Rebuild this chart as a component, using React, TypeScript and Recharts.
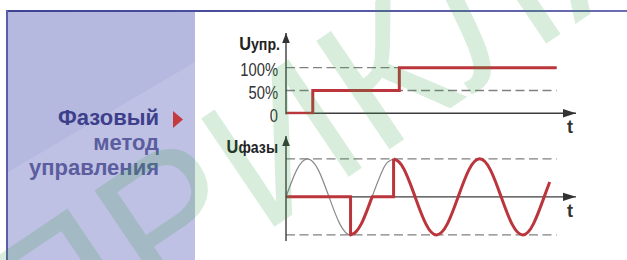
import React from 'react';
import { LineChart, Line, XAxis, YAxis, ReferenceLine, ReferenceDot } from 'recharts';

// ---- data (x in electrical degrees, y in % / relative amplitude) ----
const controlTicks = [0, 50, 100];
const controlTickLabels = ['0', '50%', '100%'];
const controlSignal = [
  { x: 0, y: 0 },
  { x: 112, y: 50 },
  { x: 474, y: 100 },
  { x: 1132, y: 100 },
];
const controlGuide100 = [{ x: 0, y: 100 }, { x: 1132, y: 100 }];
const controlGuide50 = [{ x: 0, y: 50 }, { x: 1132, y: 50 }];

const phaseGuideTop = [{ x: 0, y: 1 }, { x: 1132, y: 1 }];
const phaseGuideBottom = [{ x: 0, y: -1 }, { x: 1132, y: -1 }];
const phaseSupply = [
  { x: 0, y: 0 }, { x: 45, y: 0.71 }, { x: 90, y: 1 }, { x: 135, y: 0.71 },
  { x: 180, y: 0 }, { x: 225, y: -0.71 }, { x: 270, y: -1 }, { x: 315, y: -0.71 },
  { x: 360, y: 0 }, { x: 405, y: 0.71 }, { x: 427.5, y: 0.92 }, { x: 450, y: 1 },
];
const outputOff1 = [{ x: 0, y: 0 }, { x: 270, y: 0 }, { x: 270, y: -1 }];
const outputOn1 = [
  { x: 270, y: -1 }, { x: 292.5, y: -0.92 }, { x: 315, y: -0.71 },
  { x: 337.5, y: -0.38 }, { x: 360, y: 0 },
];
const outputOff2 = [{ x: 360, y: 0 }, { x: 450, y: 0 }, { x: 450, y: 1 }];
const outputOn2 = [
  { x: 450, y: 1 }, { x: 472.5, y: 0.92 }, { x: 495, y: 0.71 }, { x: 517.5, y: 0.38 },
  { x: 540, y: 0 }, { x: 585, y: -0.71 }, { x: 630, y: -1 }, { x: 675, y: -0.71 },
  { x: 720, y: 0 }, { x: 765, y: 0.71 }, { x: 810, y: 1 }, { x: 855, y: 0.71 },
  { x: 900, y: 0 }, { x: 945, y: -0.71 }, { x: 990, y: -1 }, { x: 1035, y: -0.71 },
  { x: 1080, y: 0 }, { x: 1103, y: 0.39 },
];

const RED = '#bb353c';
const AXIS = '#3d3d3d';
const DASH = '#808080';
const FONT = '"Liberation Sans", Arial, Helvetica, sans-serif';

const CondTick = (props: any) => {
  const { x, y, payload } = props;
  const idx = controlTicks.indexOf(payload.value);
  return (
    <text
      transform={`translate(${x},${y + 8.5}) scale(0.82,1)`}
      textAnchor="end"
      fontSize={18}
      fill="#333"
      fontFamily={FONT}
    >
      {controlTickLabels[idx]}
    </text>
  );
};

const UpArrow = (p: any) => (
  <polygon
    points={`${p.cx},${p.cy} ${p.cx - 3.8},${p.cy + 10} ${p.cx + 3.8},${p.cy + 10}`}
    fill="#333"
  />
);
const RightArrow = (p: any) => (
  <polygon
    points={`${p.cx},${p.cy} ${p.cx - 13},${p.cy - 4.2} ${p.cx - 13},${p.cy + 4.2}`}
    fill="#333"
  />
);

const X_DOMAIN: [number, number] = [0, 1213];

export default function App() {
  return (
    <div
      style={{
        position: 'absolute',
        left: 0,
        top: 0,
        width: 627,
        height: 260,
        background: '#fff',
        overflow: 'hidden',
      }}
    >
      {/* background frame & left panel */}
      <svg width={627} height={260} style={{ position: 'absolute', left: 0, top: 0 }}>
        <defs>
          <linearGradient id="topLine" x1="0" x2="1" y1="0" y2="0">
            <stop offset="0" stopColor="#3f4293" />
            <stop offset="0.35" stopColor="#4b4e9c" />
            <stop offset="1" stopColor="#6b6eb2" />
          </linearGradient>
        </defs>
        <rect x={8} y={12} width={187} height={248} fill="#b6b9df" />
        <polygon points="8,172 195,62 195,260 8,260" fill="#bec1e4" />
        <rect x={6} y={10} width={621} height={2} fill="url(#topLine)" />
        <rect x={6} y={10} width={2} height={250} fill="#5a5da8" />
        <text fontFamily={FONT} fontWeight="bold" fontSize={22} textAnchor="end">
          <tspan x={159} y={125} fill="#3d3f8b">Фазовый</tspan>
          <tspan x={159} y={150} fill="#5b5d9e">метод</tspan>
          <tspan x={159} y={175} fill="#5b5d9e">управления</tspan>
        </text>
        <polygon points="173,111 183,119.5 173,128" fill="#c33b3e" />
        {/* axis captions */}
        <text
          transform="translate(280,50) scale(0.86,1)"
          textAnchor="end"
          fontFamily={FONT}
          fontWeight="bold"
          fill="#222"
        >
          <tspan fontSize={19}>U</tspan>
          <tspan fontSize={16.5}>упр.</tspan>
        </text>
        <text
          transform="translate(278,153) scale(0.86,1)"
          textAnchor="end"
          fontFamily={FONT}
          fontWeight="bold"
          fill="#222"
        >
          <tspan fontSize={19}>U</tspan>
          <tspan fontSize={16.5}>фазы</tspan>
        </text>
        <text x={570} y={133} textAnchor="middle" fontFamily={FONT} fontWeight="bold" fontSize={18} fill="#333">t</text>
        <text x={570} y={217} textAnchor="middle" fontFamily={FONT} fontWeight="bold" fontSize={18} fill="#333">t</text>
      </svg>

      {/* control signal chart */}
      <div style={{ position: 'absolute', left: 0, top: 0 }}>
        <LineChart width={627} height={130} margin={{ top: 33, right: 51, bottom: 15.8, left: 226 }}>
          <XAxis type="number" dataKey="x" domain={X_DOMAIN} hide allowDataOverflow />
          <YAxis
            type="number"
            dataKey="y"
            domain={[-2, 176]}
            ticks={controlTicks}
            interval={0}
            width={60}
            tickLine={false}
            axisLine={{ stroke: AXIS, strokeWidth: 1.4 }}
            tick={<CondTick />}
            allowDataOverflow
          />
          <ReferenceLine y={0} stroke={AXIS} strokeWidth={1.4} />
          <Line data={controlGuide100} dataKey="y" stroke={DASH} strokeWidth={1.3} strokeDasharray="9 4.5" dot={false} activeDot={false} isAnimationActive={false} />
          <Line data={controlGuide50} dataKey="y" stroke={DASH} strokeWidth={1.3} strokeDasharray="9 4.5" dot={false} activeDot={false} isAnimationActive={false} />
          <Line data={controlSignal} dataKey="y" type="stepAfter" stroke={RED} strokeWidth={3} dot={false} activeDot={false} isAnimationActive={false} />
          <ReferenceDot x={0} y={176} shape={UpArrow} ifOverflow="visible" />
          <ReferenceDot x={1213} y={0} shape={RightArrow} ifOverflow="visible" />
        </LineChart>
      </div>

      {/* phase voltage chart */}
      <div style={{ position: 'absolute', left: 0, top: 130 }}>
        <LineChart width={627} height={130} margin={{ top: 6, right: 51, bottom: 19, left: 226 }}>
          <XAxis type="number" dataKey="x" domain={X_DOMAIN} hide allowDataOverflow />
          <YAxis
            type="number"
            dataKey="y"
            domain={[-1.16, 1.6]}
            width={60}
            tick={false}
            tickLine={false}
            axisLine={{ stroke: AXIS, strokeWidth: 1.4 }}
            allowDataOverflow
          />
          <ReferenceLine y={0} stroke={AXIS} strokeWidth={1.4} />
          <Line data={phaseGuideTop} dataKey="y" stroke={DASH} strokeWidth={1.3} strokeDasharray="9 4.5" dot={false} activeDot={false} isAnimationActive={false} />
          <Line data={phaseGuideBottom} dataKey="y" stroke={DASH} strokeWidth={1.3} strokeDasharray="9 4.5" dot={false} activeDot={false} isAnimationActive={false} />
          <Line data={phaseSupply} dataKey="y" type="natural" stroke="#8a8a8a" strokeWidth={1.2} dot={false} activeDot={false} isAnimationActive={false} />
          <Line data={outputOff1} dataKey="y" stroke={RED} strokeWidth={3} dot={false} activeDot={false} isAnimationActive={false} />
          <Line data={outputOn1} dataKey="y" type="monotone" stroke={RED} strokeWidth={3} strokeLinecap="round" dot={false} activeDot={false} isAnimationActive={false} />
          <Line data={outputOff2} dataKey="y" stroke={RED} strokeWidth={3} dot={false} activeDot={false} isAnimationActive={false} />
          <Line data={outputOn2} dataKey="y" type="natural" stroke={RED} strokeWidth={3} dot={false} activeDot={false} isAnimationActive={false} />
          <ReferenceDot x={0} y={1.6} shape={UpArrow} ifOverflow="visible" />
          <ReferenceDot x={1213} y={0} shape={RightArrow} ifOverflow="visible" />
        </LineChart>
      </div>

      {/* watermark */}
      <svg width={627} height={260} style={{ position: 'absolute', left: 0, top: 0, pointerEvents: 'none' }}>
        <text
          transform="translate(40,385) rotate(-34)"
          fontFamily={FONT}
          fontSize={190}
          fill="#2e9d3f"
          fillOpacity={0.19}
          letterSpacing={2}
        >
          ПРИКЛАД
        </text>
      </svg>
    </div>
  );
}
